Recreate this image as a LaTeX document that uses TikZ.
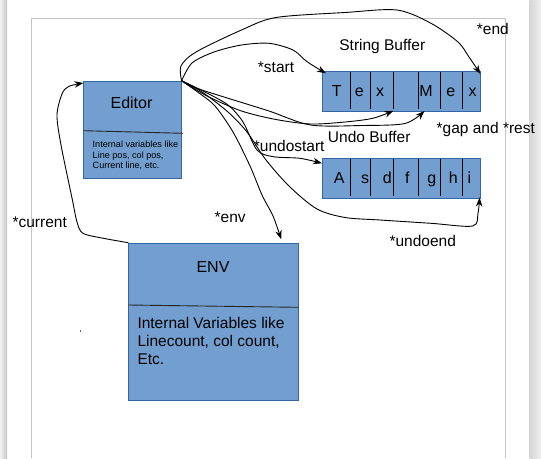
\documentclass[tikz,border=0pt]{standalone}
\usepackage{fontspec}
\setmainfont{Liberation Sans}
\usetikzlibrary{arrows.meta}
\definecolor{boxfill}{HTML}{729FCF}
\definecolor{boxline}{HTML}{3465A4}
\definecolor{framegray}{HTML}{C4C4C4}
\begin{document}
\begin{tikzpicture}[x=1pt,y=-1pt,
  box/.style={draw=boxline,fill=boxfill,line width=0.6pt,inner sep=0pt,anchor=north west},
  lbl/.style={font=\fontsize{15.5}{18}\selectfont,inner sep=0pt},
  cellch/.style={font=\fontsize{16}{18}\selectfont,inner sep=0pt,anchor=base},
  cellsep/.style={line width=0.8pt,black},
  sepline/.style={line width=0.9pt,black!85},
  ptr/.style={line width=0.9pt,-{Stealth[length=9pt,width=6.5pt]}},
]
\useasboundingbox (0,0) rectangle (541,458);
% page background
\fill[white] (0,0) rectangle (541,458);
\shade[left color=gray!10, right color=gray!45] (0,0) rectangle (7,458);
\shade[left color=gray!32, right color=gray!12] (529.5,0) rectangle (541,458);
\draw[framegray,line width=0.8pt] (31,458) -- (31,18.3) -- (505.5,18.3) -- (505.5,458);
\draw[line width=0.8pt,black!60] (80.7,329.5) -- (80.7,332);

% boxes
\node[box,minimum width=97.6pt,minimum height=97.6pt] (editor) at (83.4,80.7) {};
\node[box,minimum width=157.9pt,minimum height=40pt] (sbuf) at (322.4,70.7) {};
\node[box,minimum width=157.9pt,minimum height=40pt] (ubuf) at (322.4,157.7) {};
\node[box,minimum width=170pt,minimum height=157.3pt] (env) at (128.3,242.7) {};

% dividers in boxes
\draw[sepline] (83.4,130.7) -- (183,133.3);
\draw[sepline] (128.3,305) -- (298.3,307.3);

% box texts
\node[lbl,font=\fontsize{16}{18}\selectfont] (edtitle) at (131.5,102.3) {Editor};
\node[anchor=north west,align=left,inner sep=0pt,font=\fontsize{9.1}{10.5}\selectfont] (edvars) at (92.5,141.2)
  {Internal variables like\\Line pos, col pos,\\Current line, etc.};
\node[lbl,font=\fontsize{16}{18}\selectfont] (envtitle) at (213,266.7) {ENV};
\node[lbl,anchor=north west,align=left] (envvars) at (137.3,317.5)
  {Internal Variables like\\Linecount, col count,\\Etc.};

% cell dividers
\foreach \cx in {350.5,370.7,393.4,418.2,440.5,462.5} {
  \draw[cellsep] (\cx,72.3) -- (\cx,108.5);
  \draw[cellsep] (\cx,159.3) -- (\cx,196);
}
% string buffer letters
\node[cellch] (s1) at (336.7,96.2) {T};
\node[cellch] (s2) at (359.3,96.2) {e};
\node[cellch] (s3) at (380,96.2) {x};
\node[cellch] (s4) at (426,96.2) {M};
\node[cellch] (s5) at (450.7,96.2) {e};
\node[cellch] (s6) at (472.7,96.2) {x};
% undo buffer letters
\node[cellch] (u1) at (339.3,183.4) {A};
\node[cellch] (u2) at (365,183.4) {s};
\node[cellch] (u3) at (387.3,183.4) {d};
\node[cellch] (u4) at (407.3,183.4) {f};
\node[cellch] (u5) at (431.7,183.4) {g};
\node[cellch] (u6) at (453.3,183.4) {h};
\node[cellch] (u7) at (469.3,183.4) {i};

% labels
\node[lbl] (lend) at (492.8,29.3) {*end};
\node[lbl] (lsb) at (382.3,46) {String Buffer};
\node[lbl] (lstart) at (276,67.7) {*start};
\node[lbl,anchor=west] (lgap) at (436.5,129.3) {*gap and *rest};
\node[lbl] (lub) at (369.2,137.3) {Undo Buffer};
\node[lbl] (lus) at (289.2,146) {*undostart};
\node[lbl] (lcur) at (39.7,222.3) {*current};
\node[lbl] (lenv) at (230.2,217.3) {*env};
\node[lbl] (lue) at (422.7,241) {*undoend};

% arrow end points
\coordinate (corner) at (editor.north east);
\coordinate (endtip) at (480.5,74);
\coordinate (starttip) at (326,73.3);
\coordinate (gaptip) at (393.4,110.8);
\coordinate (resttip) at (424.4,111);
\coordinate (ustip) at (322,163.3);
\coordinate (uetip) at (479.6,197.6);
\coordinate (envtip) at (281.2,239.3);
\coordinate (curtip) at (83.4,83);

% connectors
\draw[ptr] plot[smooth] coordinates {(corner) (181,66) (196,52) (241.5,30) (276,17.5) (345,12.5) (397,10) (431,23.3) (458,42) (469,57) (endtip)};
\draw[ptr] plot[smooth] coordinates {(corner) (192,63) (214,52) (241.5,45) (269,43.3) (293,50) (307,61.7) (starttip)};
\draw[ptr] plot[smooth] coordinates {(corner) (207,96) (241.5,111) (276,119.5) (310.6,124) (345,122) (372.7,118.3) (gaptip)};
\draw[ptr] plot[smooth] coordinates {(corner) (193,87) (224,97) (269,111) (310.6,125) (362,125.5) (405,123.5) (resttip)};
\draw[ptr] plot[smooth] coordinates {(corner) (205,92) (228,105) (243,122) (257,150) (273.3,156.7) (300,158.3) (ustip)};
\draw[ptr] plot[smooth] coordinates {(corner) (202,92) (228,112) (247,132) (266,160) (290,187) (317,209) (345,217.5) (380,220) (431,223.3) (472.7,226) (478,213) (uetip)};
\draw[ptr] plot[smooth] coordinates {(corner) (199,93) (215,106) (233,132) (250,166) (262,195) (273,216) (envtip)};
\draw[ptr] plot[smooth] coordinates {(env.north west) (103.5,238.3) (83,233.3) (77,222) (72,198) (61,145) (57,115) (62,94) (68.5,86.5) (curtip)};
\end{tikzpicture}
\end{document}
